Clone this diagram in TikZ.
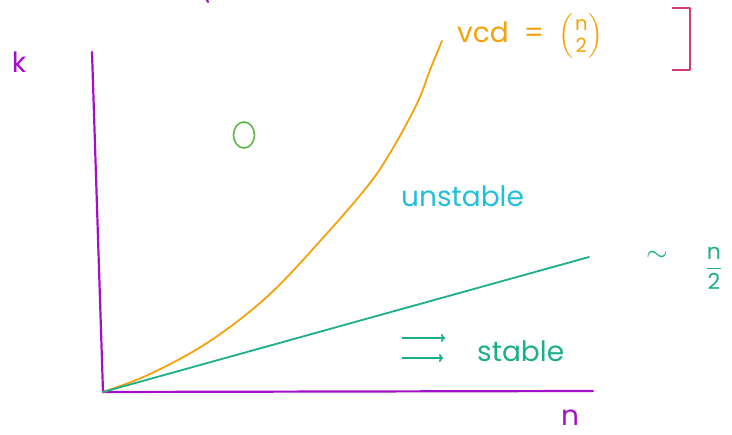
\documentclass[tikz,border=0pt]{standalone}
\usepackage{fix-cm}
\usepackage{amsmath}
\usepackage{fontspec}
\setmainfont{Poppins}
\usetikzlibrary{positioning,arrows.meta,calc,shapes.geometric}

\definecolor{axispurple}{HTML}{A410C8}
\definecolor{vcdorange}{HTML}{F5A20A}
\definecolor{stablegreen}{HTML}{1CAE8A}
\definecolor{unstablecyan}{HTML}{22BEDC}
\definecolor{zerogreen}{HTML}{5CB946}
\definecolor{brackred}{HTML}{D23C6E}

\begin{document}
\begin{tikzpicture}[
  x=1pt,y=-1pt,
  font=\fontsize{28}{30}\selectfont,
  axis/.style={axispurple,line width=2.2pt,line cap=round},
  curve/.style={vcdorange,line width=1.8pt,line cap=round},
  lin/.style={stablegreen,line width=1.8pt,line cap=round},
  lbl/.style={inner sep=1pt},
  flow/.style={-{To[length=4pt,width=8pt]},stablegreen,line width=1.8pt}
]
\useasboundingbox (0,0) rectangle (732,435);

% ---- axes ----
\coordinate (orig) at (103,392);
\coordinate (ktop) at (92,52);
\coordinate (nend) at (593,391);
\draw[axis] (ktop) -- (orig) -- (nend);
\node[lbl,axispurple] (klab) at (19,62) {k};
\node[lbl,axispurple] (nlab) at (570,418) {n};
\coordinate (mark) at (207,0);
\draw[axis] (mark) -- ++(1,2);

% ---- vcd curve and linear bound ----
\coordinate (ctop) at (442,41);
\coordinate (lend) at (589,257);
\draw[curve] plot[smooth,tension=0.6] coordinates
  {(orig) (150,374) (210,341) (270,294) (330,230) (370,183) (390,153)
   (407,123) (420,97) (430,70) (ctop)};
\draw[lin] (orig) -- (lend);

% ---- labels ----
\node[lbl,vcdorange,anchor=west] (vcd) at (456,36)
     {vcd \ = \ $\left(\genfrac{}{}{0pt}{}{\text{n}}{\text{2}}\right)$};
\draw[brackred,line width=1.8pt,line join=round]
     (672,8) -- (690,8) -- (690,70) -- (672,70);
\node[draw=zerogreen,line width=1.6pt,ellipse,minimum width=21pt,
      minimum height=26pt,inner sep=0pt] (zero) at (244,135) {};
\node[lbl,unstablecyan,anchor=west] (unst) at (400,196) {unstable};
\node[lbl,stablegreen] (approx) at (657,256) {$\sim$};
\node[lbl,stablegreen,font=\fontsize{22}{24}\selectfont] (half) at (714,268)
     {$\dfrac{\text{n}}{\text{2}}$};

% ---- stable ----
\coordinate (a1) at (402,338);
\coordinate (a2) at (402,358);
\draw[flow] (a1) -- ++(43,0) coordinate (b1);
\draw[flow] (a2) -- ++(41,0) coordinate (b2);
\node[lbl,stablegreen,anchor=west] (stab) at (476,351) {stable};

\end{tikzpicture}
\end{document}
